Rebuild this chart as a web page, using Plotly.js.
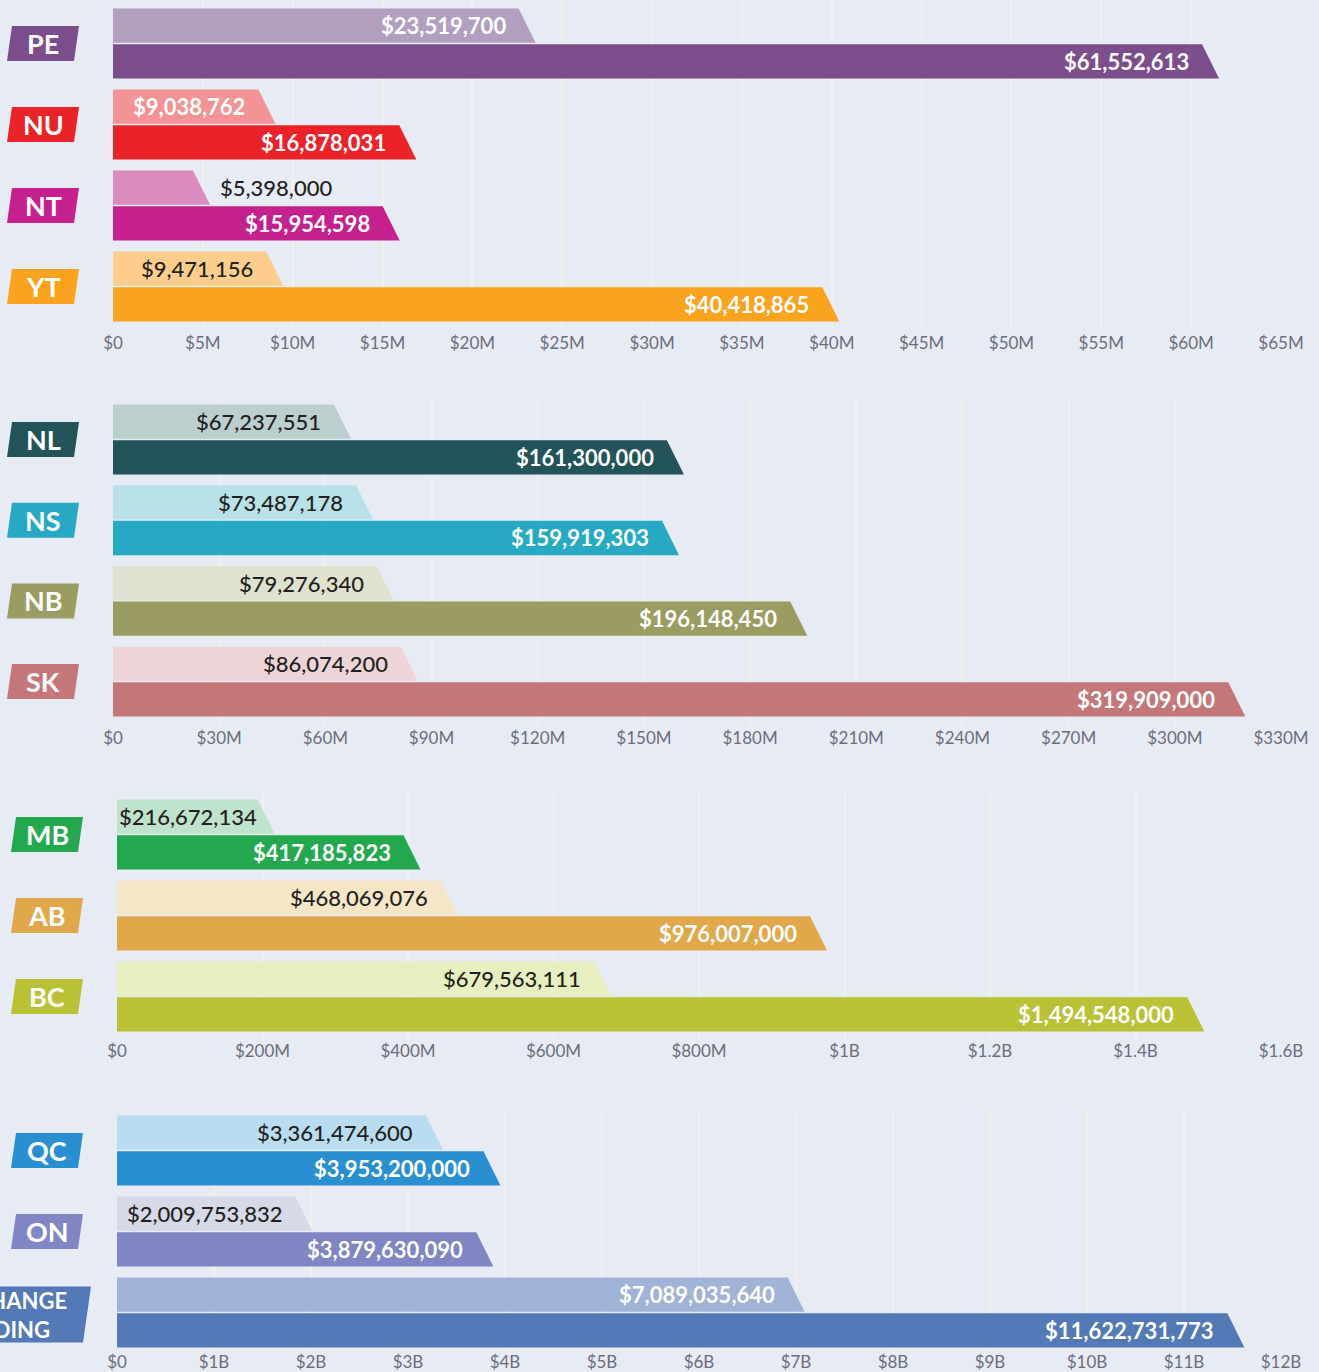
<!DOCTYPE html>
<html>
<head>
<meta charset="utf-8">
<script src="https://cdn.plot.ly/plotly-3.0.1.min.js"></script>
<style>
  html, body { margin: 0; padding: 0; background: #e7ebf4; }
  #chart { width: 1319px; height: 1372px; }
</style>
</head>
<body>
<div id="chart"></div>
<script>
// ---------------- DATA ----------------
const p1Regions = ['PE', 'NU', 'NT', 'YT'];
const p1Light = [23519700, 9038762, 5398000, 9471156];
const p1Dark = [61552613, 16878031, 15954598, 40418865];
const p1TickVals = [0, 5e6, 10e6, 15e6, 20e6, 25e6, 30e6, 35e6, 40e6, 45e6, 50e6, 55e6, 60e6, 65e6];
const p1TickText = ['$0', '$5M', '$10M', '$15M', '$20M', '$25M', '$30M', '$35M', '$40M', '$45M', '$50M', '$55M', '$60M', '$65M'];

const p2Regions = ['NL', 'NS', 'NB', 'SK'];
const p2Light = [67237551, 73487178, 79276340, 86074200];
const p2Dark = [161300000, 159919303, 196148450, 319909000];
const p2TickVals = [0, 30e6, 60e6, 90e6, 120e6, 150e6, 180e6, 210e6, 240e6, 270e6, 300e6, 330e6];
const p2TickText = ['$0', '$30M', '$60M', '$90M', '$120M', '$150M', '$180M', '$210M', '$240M', '$270M', '$300M', '$330M'];

const p3Regions = ['MB', 'AB', 'BC'];
const p3Light = [216672134, 468069076, 679563111];
const p3Dark = [417185823, 976007000, 1494548000];
const p3TickVals = [0, 200e6, 400e6, 600e6, 800e6, 1000e6, 1200e6, 1400e6, 1600e6];
const p3TickText = ['$0', '$200M', '$400M', '$600M', '$800M', '$1B', '$1.2B', '$1.4B', '$1.6B'];

const p4Regions = ['QC', 'ON', 'EXCHANGE<br>FUNDING'];
const p4Light = [3361474600, 2009753832, 7089035640];
const p4Dark = [3953200000, 3879630090, 11622731773];
const p4TickVals = [0, 1e9, 2e9, 3e9, 4e9, 5e9, 6e9, 7e9, 8e9, 9e9, 10e9, 11e9, 12e9];
const p4TickText = ['$0', '$1B', '$2B', '$3B', '$4B', '$5B', '$6B', '$7B', '$8B', '$9B', '$10B', '$11B', '$12B'];

// ---------------- STYLE / LAYOUT ----------------
const W = 1319, H = 1372;
const DARKTXT = '#231f20';
const FONT = 'Lato, "Noto Sans", sans-serif';

const panels = [
  { regions: p1Regions, light: p1Light, dark: p1Dark, tickvals: p1TickVals, ticktext: p1TickText,
    xmax: 65e6, xpx: [113, 1281], ypx: [0, 331], c0: 43.5, pitch: 81, tagShift: 0,
    lightCol: ['#b29fc0', '#f49395', '#d98cbd', '#fecd8e'],
    darkCol: ['#7b4d8a', '#ec2229', '#c4218e', '#f9a31e'],
    lightTxt: ['#ffffff', '#ffffff', DARKTXT, DARKTXT],
    lightOut: [false, false, true, false],
    lightShift: [-28, -28, 8, -28] },
  { regions: p2Regions, light: p2Light, dark: p2Dark, tickvals: p2TickVals, ticktext: p2TickText,
    xmax: 330e6, xpx: [113, 1281], ypx: [397, 726], c0: 439.5, pitch: 80.7, tagShift: 0,
    lightCol: ['#bccfcf', '#b8e2e8', '#dfe2cf', '#ecd4d7'],
    darkCol: ['#215358', '#28a9c3', '#9b9c62', '#c47778'],
    lightTxt: [DARKTXT, DARKTXT, DARKTXT, DARKTXT],
    lightOut: [false, false, false, false],
    lightShift: [-28, -28, -28, -28] },
  { regions: p3Regions, light: p3Light, dark: p3Dark, tickvals: p3TickVals, ticktext: p3TickText,
    xmax: 1600e6, xpx: [117, 1281], ypx: [793, 1039], c0: 834.5, pitch: 81, tagShift: 4,
    lightCol: ['#bfe3cc', '#f5e6c8', '#e7eec0'],
    darkCol: ['#24a84f', '#e1a74b', '#bac135'],
    lightTxt: [DARKTXT, DARKTXT, DARKTXT],
    lightOut: [false, false, false],
    lightShift: [-16, -28, -28] },
  { regions: p4Regions, light: p4Light, dark: p4Dark, tickvals: p4TickVals, ticktext: p4TickText,
    xmax: 12e9, xpx: [117, 1281], ypx: [1110, 1350], c0: 1150.5, pitch: 81, tagShift: 4,
    lightCol: ['#badcf0', '#d6d9e8', '#a0b3d6'],
    darkCol: ['#2a8fd0', '#8086c3', '#5479b7'],
    lightTxt: [DARKTXT, DARKTXT, '#ffffff'],
    lightOut: [false, false, false],
    lightShift: [-28, -28, -28] }
];

const fmt = v => '$' + v.toLocaleString('en-US');

const traces = [];
const annotations = [];
const shapes = [];
const layout = {
  width: W, height: H,
  margin: { l: 0, r: 0, t: 0, b: 0 },
  paper_bgcolor: '#e7ebf4',
  plot_bgcolor: 'rgba(0,0,0,0)',
  showlegend: false,
  hovermode: false,
  font: { family: FONT }
};

const SLANT_PX = 17;
const HALF_GAP = 0.008;
const THICK = 0.425;

panels.forEach((p, k) => {
  const n = k + 1;
  const xa = n === 1 ? 'x' : 'x' + n;
  const ya = n === 1 ? 'y' : 'y' + n;
  const xkey = n === 1 ? 'xaxis' : 'xaxis' + n;
  const ykey = n === 1 ? 'yaxis' : 'yaxis' + n;
  const yTop = (p.ypx[0] - p.c0) / p.pitch;
  const yBot = (p.ypx[1] - p.c0) / p.pitch;

  layout[xkey] = {
    domain: [p.xpx[0] / W, p.xpx[1] / W],
    anchor: ya,
    range: [0, p.xmax],
    tickvals: p.tickvals,
    ticktext: p.ticktext,
    showgrid: true,
    gridcolor: '#f1f0ea',
    gridwidth: 2,
    zeroline: false,
    showline: false,
    ticks: '',
    tickfont: { family: FONT, size: 17, color: '#6b6e7c' },
    fixedrange: true
  };
  layout[ykey] = {
    domain: [1 - p.ypx[1] / H, 1 - p.ypx[0] / H],
    anchor: xa,
    range: [yBot, yTop],
    showgrid: false, zeroline: false, showticklabels: false, ticks: '',
    fixedrange: true
  };

  const s = SLANT_PX * p.xmax / (p.xpx[1] - p.xpx[0]);

  p.regions.forEach((reg, i) => {
    const series = [
      { v: p.light[i], col: p.lightCol[i], top: i - HALF_GAP - THICK, bot: i - HALF_GAP,
        txt: p.lightTxt[i], out: p.lightOut[i], shift: p.lightShift[i] },
      { v: p.dark[i], col: p.darkCol[i], top: i + HALF_GAP, bot: i + HALF_GAP + THICK,
        txt: '#ffffff', out: false, shift: -28 }
    ];
    series.forEach(b => {
      traces.push({
        type: 'scatter', mode: 'lines', xaxis: xa, yaxis: ya,
        x: [0, b.v - s, b.v, 0, 0],
        y: [b.top, b.top, b.bot, b.bot, b.top],
        fill: 'toself', fillcolor: b.col,
        line: { width: 0, color: b.col },
        hoverinfo: 'skip'
      });
      const white = b.txt === '#ffffff';
      annotations.push({
        xref: xa, yref: ya,
        x: b.v, y: (b.top + b.bot) / 2,
        text: fmt(b.v),
        showarrow: false,
        xanchor: b.out ? 'left' : 'right',
        xshift: b.shift,
        yanchor: 'middle',
        font: { family: FONT, size: 22, color: b.txt, weight: white ? 700 : 500 }
      });
    });

    // region tag (parallelogram)
    const isMulti = reg.indexOf('<br>') >= 0;
    const hPx = isMulti ? 56 : 35;
    const skew = isMulti ? 8 : 5;
    const L = isMulti ? -80 : 7 + p.tagShift;
    const R = isMulti ? 83 : 74 + p.tagShift;
    const cy = i + (isMulti ? 2 : 0) / p.pitch;
    const hh = (hPx / 2) / p.pitch;
    const X = px => px / W;
    shapes.push({
      type: 'path', xref: 'paper', yref: ya,
      path: `M ${X(L + skew)},${cy - hh} L ${X(R + skew)},${cy - hh} L ${X(R)},${cy + hh} L ${X(L)},${cy + hh} Z`,
      fillcolor: p.darkCol[i], line: { width: 0 }, layer: 'above'
    });
    if (isMulti) {
      annotations.push({
        xref: 'paper', yref: ya, x: 69 / W, y: cy,
        text: reg, showarrow: false, xanchor: 'right', yanchor: 'middle', align: 'left',
        font: { family: FONT, size: 22, color: '#ffffff', weight: 700 }
      });
    } else {
      annotations.push({
        xref: 'paper', yref: ya, x: ((L + R) / 2 + skew / 2) / W, y: i,
        text: reg, showarrow: false, xanchor: 'center', yanchor: 'middle',
        font: { family: FONT, size: 27, color: '#ffffff', weight: 700 }
      });
    }
  });
});

layout.annotations = annotations;
layout.shapes = shapes;

Plotly.newPlot('chart', traces, layout, { staticPlot: true, displayModeBar: false });
</script>
</body>
</html>
